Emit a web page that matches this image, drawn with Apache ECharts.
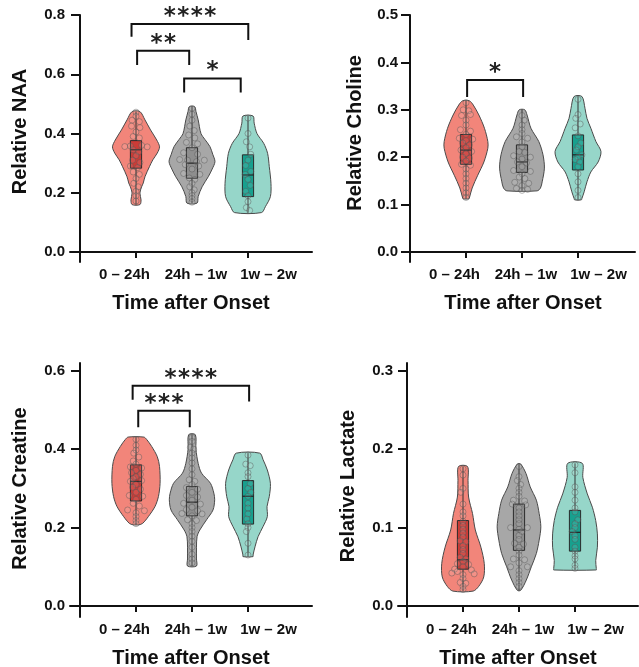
<!DOCTYPE html>
<html><head><meta charset="utf-8">
<script src="https://cdn.jsdelivr.net/npm/echarts@6/dist/echarts.min.js"></script>
<style>html,body{margin:0;padding:0;background:#fff}#c{width:639px;height:667px}</style>
</head><body><div id="c"></div>
<script>
// ---------------- DATA ----------------
const categories = ['0 \u2013 24h', '24h \u2013 1w', '1w \u2013 2w'];
const yTitles = ['Relative NAA', 'Relative Choline', 'Relative Creatine', 'Relative Lactate'];
const xTitle = 'Time after Onset';

const naaTicks = [0, 0.2, 0.4, 0.6, 0.8];
const cholineTicks = [0, 0.1, 0.2, 0.3, 0.4, 0.5];
const creatineTicks = [0, 0.2, 0.4, 0.6];
const lactateTicks = [0, 0.1, 0.2, 0.3];

// violin outlines: [value, half-width (category units)], bottom -> top
const naaViolinA = [[.16,.07],[.176,.09],[.199,.07],[.22,.1],[.233,.13],[.254,.16],[.288,.24],[.311,.30],[.334,.38],[.355,.42],[.378,.37],[.412,.26],[.446,.16],[.474,.07]];
const naaViolinB = [[.165,.09],[.187,.11],[.22,.18],[.254,.29],[.28,.36],[.305,.41],[.33,.37],[.356,.32],[.38,.23],[.40,.16],[.446,.11],[.475,.07],[.49,.05]];
const naaViolinC = [[.133,.24],[.153,.31],[.187,.40],[.232,.41],[.288,.38],[.333,.35],[.367,.28],[.40,.16],[.435,.11],[.459,.09]];
const cholineViolinA = [[.112,.05],[.114,.06],[.135,.11],[.162,.21],[.19,.32],[.219,.39],[.233,.39],[.261,.33],[.289,.23],[.31,.13],[.319,.06]];
const cholineViolinB = [[.129,.27],[.135,.33],[.148,.36],[.177,.40],[.205,.375],[.233,.30],[.261,.16],[.289,.09],[.30,.05]];
const cholineViolinC = [[.11,.06],[.113,.07],[.127,.11],[.148,.16],[.169,.23],[.19,.36],[.212,.41],[.233,.32],[.261,.23],[.282,.16],[.303,.125],[.328,.07]];
const creatineViolinA = [[.207,.05],[.211,.12],[.228,.22],[.254,.34],[.279,.40],[.313,.43],[.356,.42],[.381,.38],[.407,.28],[.425,.19],[.431,.14]];
const creatineViolinB = [[.102,.08],[.12,.08],[.15,.08],[.177,.09],[.194,.14],[.22,.26],[.245,.375],[.271,.405],[.288,.39],[.313,.33],[.339,.17],[.364,.11],[.40,.07],[.437,.06]];
const creatineViolinC = [[.126,.09],[.13,.09],[.151,.125],[.177,.18],[.203,.27],[.228,.345],[.254,.34],[.279,.38],[.313,.40],[.347,.345],[.373,.27],[.39,.21]];
const lactateViolinA = [[.019,.18],[.025,.28],[.037,.37],[.054,.38],[.075,.32],[.097,.22],[.118,.17],[.139,.10],[.16,.09],[.178,.08]];
const lactateViolinB = [[.02,.03],[.033,.13],[.05,.22],[.067,.31],[.084,.36],[.101,.39],[.118,.36],[.135,.31],[.152,.20],[.169,.125],[.181,.03]];
const lactateViolinC = [[.046,.38],[.048,.38],[.058,.37],[.075,.40],[.092,.40],[.109,.37],[.126,.31],[.143,.22],[.164,.14],[.182,.13]];

// box: [q1, median, q3]
const naaBoxes = [[.283,.345,.376],[.249,.30,.352],[.187,.26,.328]];
const cholineBoxes = [[.185,.215,.248],[.168,.19,.226],[.173,.205,.247]];
const creatineBoxes = [[.268,.318,.36],[.23,.265,.305],[.209,.28,.32]];
const lactateBoxes = [[.047,.059,.109],[.071,.097,.13],[.07,.094,.122]];

// individual points: [jitter (category units), value]
const naaPointsA = [[0,.472],[0,.458],[-.07,.445],[.06,.44],[-.08,.425],[.07,.42],[0,.405],[-.05,.39],[.06,.385],[-.2,.356],[-.1,.358],[.1,.36],[.2,.355],[-.05,.345],[.05,.338],[0,.325],[-.06,.31],[.07,.302],[-.1,.29],[.03,.285],[-.05,.27],[.06,.262],[0,.248],[-.04,.232],[.04,.22],[0,.205],[0,.19],[0,.172]];
const naaPointsB = [[0,.485],[0,.465],[0,.445],[-.04,.425],[.04,.41],[-.06,.395],[.05,.385],[-.1,.37],[.1,.365],[0,.352],[-.15,.335],[.1,.33],[-.22,.312],[-.08,.31],[.08,.305],[.22,.31],[-.12,.295],[.12,.29],[0,.28],[-.15,.265],[.14,.262],[-.05,.25],[.05,.245],[0,.232],[-.04,.22],[.04,.21],[0,.2],[0,.19],[0,.18],[0,.168]];
const naaPointsC = [[0,.452],[0,.4],[-.03,.372],[.03,.355],[.05,.33],[0,.31],[-.04,.292],[.05,.272],[-.05,.262],[0,.245],[.04,.225],[-.04,.205],[0,.19],[0,.17],[-.03,.15],[.03,.14]];
const cholinePointsA = [[0,.315],[-.05,.3],[.05,.298],[-.08,.288],[.08,.29],[0,.278],[0,.268],[-.1,.258],[.08,.255],[0,.248],[-.12,.24],[.12,.238],[0,.235],[-.06,.23],[.06,.226],[0,.22],[-.09,.215],[.1,.212],[0,.207],[-.06,.2],[.06,.198],[0,.192],[-.08,.185],[.08,.183],[0,.175],[0,.165],[0,.155],[0,.145],[0,.135],[0,.125],[0,.115]];
const cholinePointsB = [[0,.288],[.04,.278],[0,.268],[0,.258],[0,.25],[-.1,.243],[.1,.24],[0,.232],[0,.222],[-.05,.212],[.05,.21],[-.15,.203],[.15,.2],[0,.196],[-.08,.19],[.08,.188],[0,.18],[-.15,.172],[.15,.17],[0,.165],[-.05,.158],[.05,.155],[-.13,.147],[.12,.145],[0,.14],[-.1,.134],[.1,.132],[0,.13]];
const cholinePointsC = [[0,.322],[0,.29],[-.04,.282],[.04,.27],[-.05,.262],[0,.245],[.05,.23],[0,.222],[-.03,.215],[.07,.205],[0,.2],[-.05,.195],[.03,.19],[0,.18],[0,.165],[0,.148],[0,.13],[0,.115]];
const creatinePointsA = [[0,.425],[0,.41],[0,.398],[-.04,.39],[.05,.38],[-.05,.37],[0,.362],[-.1,.355],[.1,.352],[0,.346],[-.08,.34],[.08,.336],[0,.33],[-.05,.325],[-.1,.318],[.1,.32],[0,.31],[-.06,.303],[.08,.298],[0,.29],[-.12,.282],[.12,.28],[0,.272],[-.05,.262],[.06,.255],[-.15,.245],[.15,.243],[0,.238],[0,.228],[0,.218],[0,.21]];
const creatinePointsB = [[0,.43],[0,.42],[-.03,.405],[.03,.4],[0,.39],[0,.378],[0,.365],[0,.35],[0,.335],[-.05,.322],[.05,.318],[0,.31],[-.1,.302],[.1,.298],[0,.29],[-.1,.282],[.1,.278],[0,.27],[-.15,.262],[.15,.26],[0,.252],[-.1,.246],[.1,.243],[-.18,.236],[.18,.235],[0,.23],[-.08,.22],[.08,.218],[0,.21],[0,.2],[0,.19],[0,.178],[0,.165],[0,.15],[0,.132],[0,.12],[0,.11]];
const creatinePointsC = [[0,.385],[-.04,.362],[.04,.358],[0,.34],[0,.33],[.04,.312],[0,.3],[.05,.29],[0,.28],[0,.262],[0,.25],[0,.235],[-.02,.222],[0,.21],[0,.2],[-.03,.19],[0,.16],[0,.13]];
const lactatePointsA = [[0,.175],[0,.167],[0,.15],[-.04,.145],[0,.13],[0,.12],[0,.115],[0,.108],[0,.103],[0,.098],[0,.093],[0,.088],[-.05,.083],[.05,.082],[0,.077],[0,.072],[0,.067],[-.05,.062],[.05,.06],[0,.057],[-.1,.054],[.1,.053],[0,.05],[-.15,.047],[.15,.046],[-.1,.044],[-.2,.042],[.2,.041],[0,.04],[0,.035],[-.05,.03],[.05,.029],[0,.025],[0,.021]];
const lactatePointsB = [[0,.178],[0,.165],[-.03,.16],[.03,.155],[0,.15],[0,.145],[0,.14],[-.1,.135],[.1,.134],[-.12,.13],[.12,.129],[0,.125],[0,.12],[0,.115],[0,.11],[0,.105],[-.15,.1],[.15,.1],[0,.098],[.05,.095],[0,.09],[0,.085],[-.08,.08],[.08,.079],[0,.075],[0,.07],[0,.065],[-.1,.06],[.1,.059],[0,.055],[-.15,.05],[.15,.05],[0,.045],[0,.04],[0,.035],[0,.03],[0,.025]];
const lactatePointsC = [[0,.18],[0,.17],[0,.152],[0,.145],[0,.135],[0,.125],[0,.12],[.05,.11],[0,.105],[0,.1],[-.05,.095],[0,.09],[0,.085],[0,.075],[0,.07],[0,.064],[0,.06],[0,.052],[0,.048]];

// significance brackets: [x start, x end, bar value, left leg end, right leg end, stars]
const naaBrackets = [[0.92,3.005,.770,.727,.716,4],[1.02,1.95,.679,.631,.631,2],[1.86,2.87,.586,.538,.538,1]];
const cholineBrackets = [[1.02,2.02,.363,.327,.327,1]];
const creatineBrackets = [[0.94,3.02,.562,.526,.522,4],[1.04,1.96,.498,.456,.456,3]];
const lactateBrackets = [];

// ---------------- LAYOUT / STYLE ----------------
const FONT = '"Liberation Sans", Arial, Helvetica, sans-serif';
const STAR_FONT = '"DejaVu Sans", sans-serif';
const UNIT = 56;
const LABEL_AT = [0.795, 2.07, 3.366]; // where the category labels sit along the axis
const VIOLIN_FILL = ['#f2857a', '#a7a7a7', '#96d6c9'];
const BOX_FILL = ['#cc3b36', '#8e8e8e', '#17a08e'];
const BOXW = 0.1;
const panels = [
  {ticks: naaTicks, violins: [naaViolinA, naaViolinB, naaViolinC], boxes: naaBoxes, points: [naaPointsA, naaPointsB, naaPointsC], brackets: naaBrackets,
   L: {left: 70, yAxisX: 80, right: 312, top: 15, zero: 252, below: 10, yMax: 0.8, yGap: 40, yShift: 14, xShift: 0}},
  {ticks: cholineTicks, violins: [cholineViolinA, cholineViolinB, cholineViolinC], boxes: cholineBoxes, points: [cholinePointsA, cholinePointsB, cholinePointsC], brackets: cholineBrackets,
   L: {left: 403, yAxisX: 410, right: 635, top: 15, zero: 252, below: 10, yMax: 0.5, yGap: 38, yShift: 11, xShift: 8}},
  {ticks: creatineTicks, violins: [creatineViolinA, creatineViolinB, creatineViolinC], boxes: creatineBoxes, points: [creatinePointsA, creatinePointsB, creatinePointsC], brackets: creatineBrackets,
   L: {left: 70, yAxisX: 80, right: 312, top: 363, zero: 606, below: 11, yMax: 0.62, yGap: 40, yShift: 3, xShift: 0}},
  {ticks: lactateTicks, violins: [lactateViolinA, lactateViolinB, lactateViolinC], boxes: lactateBoxes, points: [lactatePointsA, lactatePointsB, lactatePointsC], brackets: lactateBrackets,
   L: {left: 398, yAxisX: 407, right: 638, top: 363, zero: 606, below: 11, yMax: 0.31, yGap: 40, yShift: 8, xShift: 0}}
];

const grid = [], xAxis = [], yAxis = [], series = [];
panels.forEach((p, pi) => {
  const L = p.L;
  grid.push({left: L.left, top: L.top, width: L.right - L.left, height: L.zero + L.below - L.top, outerBoundsMode: 'none', containLabel: false});
  xAxis.push({
    type: 'value', gridIndex: pi,
    min: (L.left - L.yAxisX) / UNIT, max: (L.right - L.yAxisX) / UNIT,
    axisLine: {onZero: true, lineStyle: {color: '#111', width: 2}},
    axisTick: {customValues: [1, 2, 3], length: 6, lineStyle: {color: '#111', width: 2}},
    axisLabel: {customValues: LABEL_AT, formatter: v => categories[Math.round(v) - 1], margin: 5,
      fontSize: 15, fontWeight: 'bold', fontFamily: FONT, color: '#111'},
    splitLine: {show: false},
    name: xTitle, nameLocation: 'middle', nameGap: 31, nameMoveOverlap: false,
    nameTextStyle: {fontSize: 20, fontWeight: 'bold', fontFamily: FONT, color: '#111', padding: [0, 0, 0, L.xShift]}
  });
  yAxis.push({
    type: 'value', gridIndex: pi,
    min: -L.below * L.yMax / (L.zero - L.top), max: L.yMax,
    axisLine: {show: true, onZero: true, lineStyle: {color: '#111', width: 2}},
    axisTick: {show: true, customValues: p.ticks, length: 9, lineStyle: {color: '#111', width: 2}},
    axisLabel: {customValues: p.ticks, formatter: v => v.toFixed(1), margin: 5,
      fontSize: 15, fontWeight: 'bold', fontFamily: FONT, color: '#111'},
    splitLine: {show: false},
    name: yTitles[pi], nameLocation: 'middle', nameGap: L.yGap, nameMoveOverlap: false,
    nameTextStyle: {fontSize: 20, fontWeight: 'bold', fontFamily: FONT, color: '#111', padding: [0, 0, 0, L.yShift]}
  });

  // violins + whiskers + boxes
  series.push({
    type: 'custom', xAxisIndex: pi, yAxisIndex: pi, z: 2, silent: true,
    data: p.boxes.map((b, i) => [i + 1, b[1]]),
    renderItem(params, api) {
      const i = params.dataIndex, cx = i + 1, out = p.violins[i], b = p.boxes[i];
      const right = out.map(([v, w]) => api.coord([cx + w, v]));
      const left = out.slice().reverse().map(([v, w]) => api.coord([cx - w, v]));
      const w0 = api.coord([cx, out[0][0]]), w1 = api.coord([cx, out[out.length - 1][0]]);
      const q3 = api.coord([cx - BOXW, b[2]]), q1 = api.coord([cx + BOXW, b[0]]);
      const m0 = api.coord([cx - BOXW, b[1]]), m1 = api.coord([cx + BOXW, b[1]]);
      return {type: 'group', children: [
        {type: 'polygon', shape: {points: right.concat(left), smooth: 0.3},
         style: {fill: VIOLIN_FILL[i], stroke: '#4a4a4a', lineWidth: 1}},
        {type: 'line', shape: {x1: w0[0], y1: w0[1], x2: w1[0], y2: w1[1]}, style: {stroke: '#333', lineWidth: 1}},
        {type: 'rect', shape: {x: q3[0], y: q3[1], width: q1[0] - q3[0], height: q1[1] - q3[1]},
         style: {fill: BOX_FILL[i], stroke: '#2a2a2a', lineWidth: 1}},
        {type: 'line', shape: {x1: m0[0], y1: m0[1], x2: m1[0], y2: m1[1]}, style: {stroke: '#222', lineWidth: 1.2}}
      ]};
    }
  });
  // points
  p.points.forEach((pts, gi) => {
    series.push({
      type: 'scatter', xAxisIndex: pi, yAxisIndex: pi, z: 3, silent: true,
      symbol: 'circle', symbolSize: 6,
      data: pts.map(([dx, v]) => [gi + 1 + dx, v]),
      itemStyle: {color: 'rgba(255,255,255,0.12)', borderColor: 'rgba(85,85,85,0.55)', borderWidth: 1}
    });
  });
  // brackets
  if (p.brackets.length) series.push({
    type: 'custom', xAxisIndex: pi, yAxisIndex: pi, z: 4, silent: true, clip: false,
    data: p.brackets.map(b => [b[0], b[2]]),
    renderItem(params, api) {
      const b = p.brackets[params.dataIndex];
      const a = api.coord([b[0], b[3]]), c = api.coord([b[0], b[2]]);
      const d = api.coord([b[1], b[2]]), e = api.coord([b[1], b[4]]);
      const children = [{type: 'polyline', shape: {points: [a, c, d, e]}, style: {stroke: '#111', lineWidth: 2, fill: 'none'}}];
      const mid = (c[0] + d[0]) / 2;
      for (let k = 0; k < b[5]; k++) {
        children.push({type: 'text', style: {text: '*', x: mid + (k - (b[5] - 1) / 2) * 13.5, y: c[1] - 13 + 6,
          align: 'center', verticalAlign: 'middle', fontSize: 23, fontWeight: 'bold', fontFamily: STAR_FONT, fill: '#222'}});
      }
      return {type: 'group', children};
    }
  });
});

const chart = echarts.init(document.getElementById('c'), null, {renderer: 'canvas'});
chart.setOption({animation: false, backgroundColor: '#fff', grid, xAxis, yAxis, series});
</script></body></html>
